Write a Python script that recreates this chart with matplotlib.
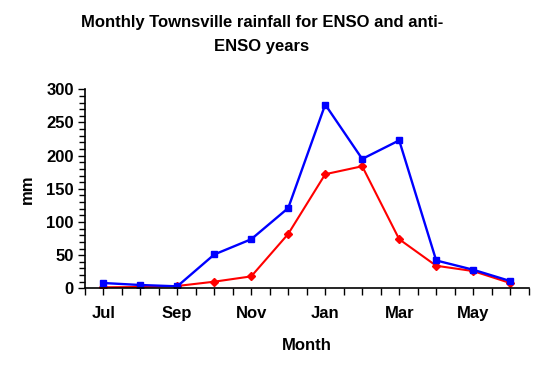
import numpy as np
import matplotlib.pyplot as plt
from matplotlib.ticker import MultipleLocator

plt.rcParams['font.family'] = ['Liberation Sans', 'DejaVu Sans']
plt.rcParams['font.weight'] = 'bold'
plt.rcParams['axes.labelweight'] = 'bold'

months = ['Jul', 'Aug', 'Sep', 'Oct', 'Nov', 'Dec', 'Jan', 'Feb', 'Mar', 'Apr', 'May', 'Jun']
enso_blue = [8, 5, 3, 51, 74, 121, 277, 195, 223, 42, 28, 11]
anti_red = [1.5, 2, 3.5, 10, 18, 82, 172, 184, 74, 34, 26, 8]

x = np.arange(len(months))

fig = plt.figure(figsize=(5.4, 3.67), dpi=100)
ax = fig.add_axes([0.157, 0.2144, 0.822, 0.5423])

ax.plot(x, anti_red, color='#ff0000', lw=1.5, marker='D', ms=4, mec='#ff0000', mfc='#ff0000')
ax.plot(x, enso_blue, color='#0000ff', lw=1.7, marker='s', ms=5, mec='#0000ff', mfc='#0000ff')

ax.set_xlim(-0.5, 11.5)
ax.set_ylim(0, 300)
ax.set_xticks(x[::2])
ax.set_xticklabels(months[::2])
ax.xaxis.set_minor_locator(MultipleLocator(0.5))
ax.yaxis.set_major_locator(MultipleLocator(50))
ax.yaxis.set_minor_locator(MultipleLocator(10))
ax.tick_params(axis='x', which='both', length=5, width=1, pad=8, labelsize=12)
ax.tick_params(axis='y', which='major', length=5, width=1, pad=3, labelsize=12)
ax.tick_params(axis='y', which='minor', length=4, width=1)
for s in ['top', 'right']:
    ax.spines[s].set_visible(False)
for s in ['left', 'bottom']:
    ax.spines[s].set_linewidth(1.2)

ax.set_xlabel('Month', fontsize=12, labelpad=12)
ax.set_ylabel('mm', fontsize=12, labelpad=8)
fig.text(262 / 540, 1 - 22 / 367, 'Monthly Townsville rainfall for ENSO and anti-', ha='center', va='center', fontsize=12)
fig.text(262 / 540, 1 - 47 / 367, 'ENSO years', ha='center', va='center', fontsize=12)

fig.savefig('out.png', dpi=100)
